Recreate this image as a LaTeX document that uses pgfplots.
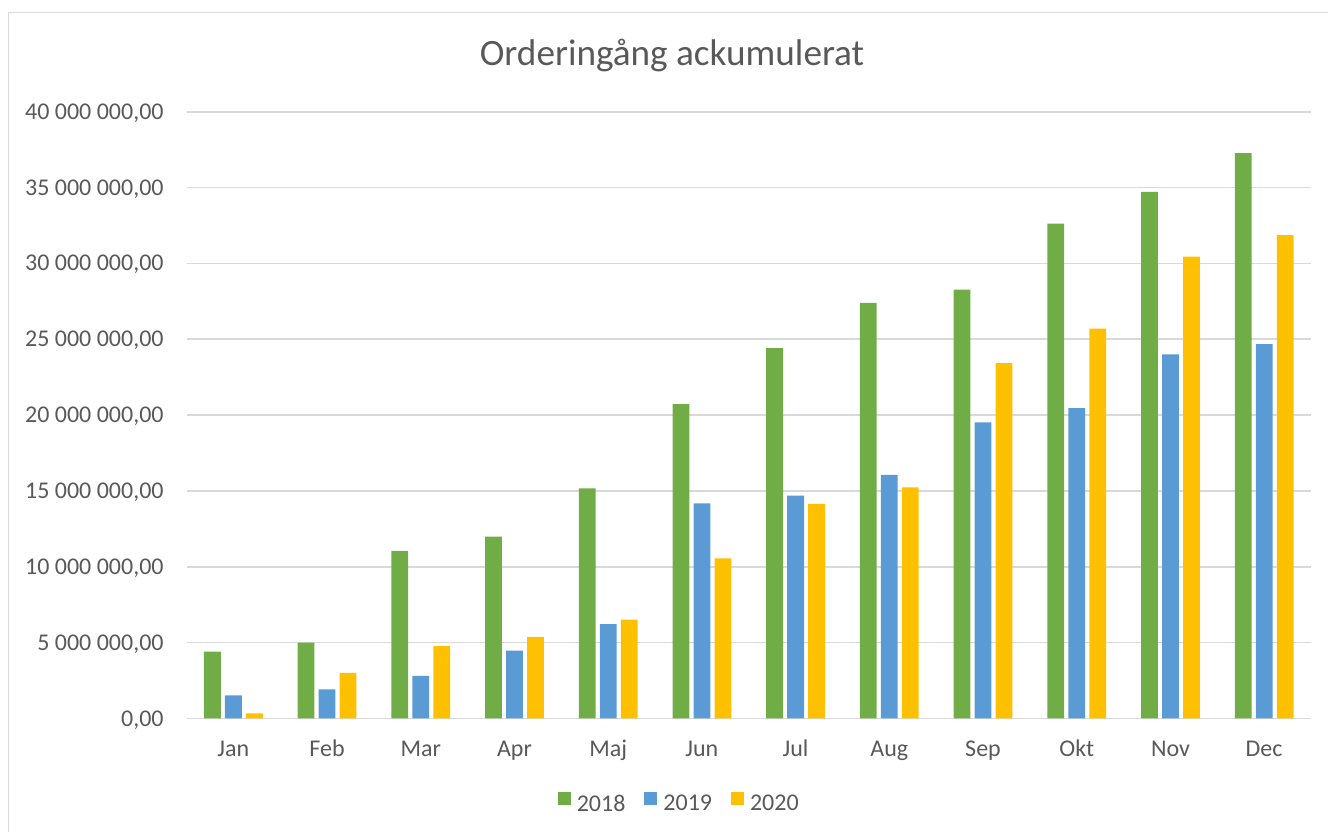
\documentclass[border=0pt]{standalone}
\usepackage{pgfplots}
\pgfplotsset{compat=1.18}
\usepackage{fontspec}
\setmainfont{Carlito}
\definecolor{cgreen}{HTML}{70AD47}
\definecolor{cblue}{HTML}{5B9BD5}
\definecolor{cyellow}{HTML}{FFC000}
\definecolor{ctext}{HTML}{595959}
\definecolor{cgrid}{HTML}{D9D9D9}
\begin{document}
\begin{tikzpicture}
\useasboundingbox (0,0) rectangle (664pt,416pt);
\draw[cgrid, line width=0.75pt] (4.15pt,0) -- (4.15pt,409.85pt) -- (664pt,409.85pt);
\node[anchor=base, text=ctext, font=\fontsize{18.6}{22}\selectfont, inner sep=0pt] at (336pt,383.15pt) {Orderingång ackumulerat};
\begin{axis}[
  at={(93.25pt,56.8pt)}, anchor=south west,
  width=562.25pt, height=303.35pt, scale only axis,
  ybar=2.1pt, bar width=8.4pt,
  xmin=-0.5, xmax=11.5, ymin=0, ymax=40000000,
  xtick={0,...,11},
  xticklabels={Jan,Feb,Mar,Apr,Maj,Jun,Jul,Aug,Sep,Okt,Nov,Dec},
  ytick={0,5000000,10000000,15000000,20000000,25000000,30000000,35000000,40000000},
  yticklabels={{0,00},{5 000 000,00},{10 000 000,00},{15 000 000,00},{20 000 000,00},{25 000 000,00},{30 000 000,00},{35 000 000,00},{40 000 000,00}},
  scaled y ticks=false,
  major tick length=0pt,
  axis line style={draw=none},
  ymajorgrids, grid style={cgrid, line width=0.8pt},
  tick label style={text=ctext, font=\fontsize{12}{14}\selectfont, inner sep=0pt},
  yticklabel style={anchor=base east, xshift=-11.25pt, yshift=-3.8pt},
  xticklabel style={anchor=base, yshift=-19.15pt},
  legend columns=3,
  legend style={at={(rel axis cs:0.4373,-0.1394)}, anchor=center, draw=none,
    font=\fontsize{12}{14}\selectfont, text=ctext,
    /tikz/every odd column/.append style={column sep=3pt},
    /tikz/every even column/.append style={column sep=9.5pt},
    nodes={inner sep=0pt}},
  legend image code/.code={\fill[#1] (0pt,0pt) rectangle (6.5pt,6.5pt);},
]
\addplot[fill=cgreen, draw=none] coordinates {(0,4400000) (1,4990000) (2,11050000) (3,11980000) (4,15160000) (5,20720000) (6,24410000) (7,27390000) (8,28270000) (9,32620000) (10,34720000) (11,37270000)};
\addplot[fill=cblue, draw=none] coordinates {(0,1520000) (1,1920000) (2,2810000) (3,4470000) (4,6210000) (5,14180000) (6,14680000) (7,16060000) (8,19510000) (9,20450000) (10,24000000) (11,24680000)};
\addplot[fill=cyellow, draw=none] coordinates {(0,340000) (1,3010000) (2,4770000) (3,5370000) (4,6510000) (5,10550000) (6,14150000) (7,15230000) (8,23420000) (9,25700000) (10,30440000) (11,31870000)};
\legend{2018,2019,2020}
\end{axis}
\end{tikzpicture}
\end{document}
